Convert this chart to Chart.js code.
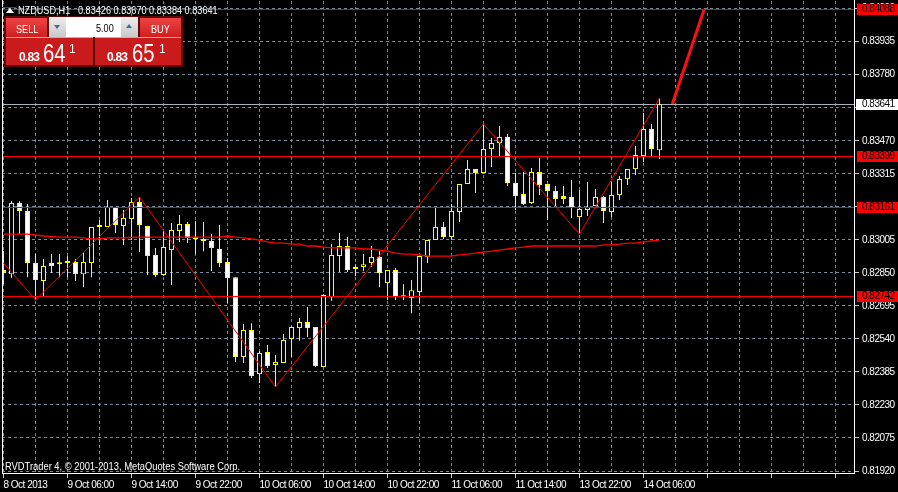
<!DOCTYPE html>
<html>
<head>
<meta charset="utf-8">
<script src="https://cdn.jsdelivr.net/npm/chart.js@4.4.0/dist/chart.umd.min.js"></script>
<style>
html, body { margin: 0; padding: 0; background: #000; }
#wrap { position: relative; width: 898px; height: 492px; overflow: hidden; background: #000;
  font-family: "Liberation Sans", sans-serif; color: #fff; }
#chart { position: absolute; left: 0; top: 0; }
.abs { position: absolute; white-space: nowrap; line-height: 1; }
.sx { transform: scaleX(0.83); transform-origin: 0 0; }
.hdr { top: 5px; font-size: 11px; }
.icon-line { left: 2px; top: 7px; width: 14px; height: 1px; background: #ff0000; }
.icon-tri { left: 6px; top: 8px; width: 0; height: 0; border-left: 4px solid transparent;
  border-right: 4px solid transparent; border-bottom: 5px solid #fff; }
.panel { left: 4px; top: 16px; width: 179px; height: 51px; background: #5a0a0a; }
.btn { top: 18px; width: 41px; height: 19px; background: linear-gradient(#ee4444, #d01e1e); }
.lbl { top: 24px; font-size: 11px; color: #fff; }
.sep { height: 1px; background: #f19a9a; }
.spin { left: 49px; top: 17px; width: 89px; height: 20px; background: #fff; }
.arr { top: 17px; width: 17px; height: 20px; background: linear-gradient(#eeeeee, #c8c8c8); }
.arr i { position: absolute; left: 5px; width: 0; height: 0; border-left: 3px solid transparent; border-right: 3px solid transparent; }
.qty { left: 96px; top: 23px; font-size: 11px; color: #000; }
.box { top: 38px; height: 27px; background: #c91b1b; }
.small { font-size: 12px; font-weight: bold; top: 51px; letter-spacing: -0.8px; }
.big { font-size: 26px; top: 40px; transform: scaleX(0.78); transform-origin: 0 0; }
.sup { font-size: 12px; top: 43px; }
.copy { left: 5px; top: 461px; font-size: 11px; color: #fff; transform: scaleX(0.85); transform-origin: 0 0; }
</style>
</head>
<body>
<div id="wrap">
  <canvas id="chart" width="898" height="492"></canvas>

  <div class="abs icon-line"></div>
  <div class="abs icon-tri"></div>
  <div class="abs hdr sx" style="left:18px">NZDUSD,H1</div>
  <div class="abs hdr sx" style="left:78px">0.83426 0.83670 0.83384 0.83641</div>

  <div class="abs panel"></div>
  <div class="abs btn" style="left:6px"></div>
  <div class="abs lbl sx" style="left:16px">SELL</div>
  <div class="abs spin"></div>
  <div class="abs arr" style="left:49px"><i style="top:8px;border-top:4px solid #4a6690"></i></div>
  <div class="abs arr" style="left:121px"><i style="top:7px;border-bottom:4px solid #4a6690"></i></div>
  <div class="abs qty sx">5.00</div>
  <div class="abs btn" style="left:140px"></div>
  <div class="abs lbl sx" style="left:151px">BUY</div>
  <div class="abs box" style="left:6px;width:87px"></div>
  <div class="abs box" style="left:95px;width:86px"></div>
  <div class="abs sep" style="left:6px;top:37px;width:87px"></div>
  <div class="abs sep" style="left:95px;top:37px;width:86px"></div>
  <div class="abs small" style="left:19px">0.83</div>
  <div class="abs big" style="left:43px">64</div>
  <div class="abs sup" style="left:69px">1</div>
  <div class="abs small" style="left:107px">0.83</div>
  <div class="abs big" style="left:132px">65</div>
  <div class="abs sup" style="left:159px">1</div>

  <div class="abs copy">RVDTrader 4, © 2001-2013, MetaQuotes Software Corp.</div>
</div>

<script>
'use strict';

// ---- data (NZDUSD H1) ----
var timeLabels = ['8 Oct 2013', '9 Oct 06:00', '9 Oct 14:00', '9 Oct 22:00', '10 Oct 06:00',
  '10 Oct 14:00', '10 Oct 22:00', '11 Oct 06:00', '11 Oct 14:00', '13 Oct 22:00', '14 Oct 06:00'];

var opens = [
  0.82863, 0.82844, 0.83178, 0.83140, 0.82896, 0.82812, 0.82896, 0.82891, 0.82896, 0.82901,
  0.82844, 0.82896, 0.83065, 0.83065, 0.83159, 0.83070, 0.83103, 0.83183, 0.83070, 0.82934,
  0.82840, 0.82957, 0.83047, 0.83079, 0.83014, 0.83009, 0.83000, 0.82962, 0.82901, 0.82830,
  0.82455, 0.82582, 0.82375, 0.82479, 0.82418, 0.82427, 0.82540, 0.82591, 0.82619, 0.82596,
  0.82408, 0.82736, 0.82929, 0.82976, 0.82868, 0.82877, 0.82896, 0.82924, 0.82802, 0.82863,
  0.82736, 0.82732, 0.82760, 0.82924, 0.83004, 0.83065, 0.83018, 0.83136, 0.83267, 0.83337,
  0.83319, 0.83431, 0.83459, 0.83488, 0.83272, 0.83220, 0.83178, 0.83323, 0.83267, 0.83234,
  0.83211, 0.83206, 0.83112, 0.83145, 0.83164, 0.83206, 0.83136, 0.83215, 0.83290, 0.83337,
  0.83398, 0.83525, 0.83426
];
var highs = [
  0.82952, 0.83187, 0.83187, 0.83173, 0.82938, 0.82915, 0.82938, 0.82938, 0.82929, 0.82915,
  0.82948, 0.83065, 0.83098, 0.83192, 0.83159, 0.83145, 0.83201, 0.83206, 0.83070, 0.82967,
  0.83047, 0.83084, 0.83122, 0.83089, 0.83093, 0.83089, 0.83032, 0.83075, 0.82920, 0.82830,
  0.82610, 0.82614, 0.82483, 0.82512, 0.82465, 0.82563, 0.82600, 0.82638, 0.82690, 0.82596,
  0.82750, 0.82985, 0.83037, 0.83018, 0.82891, 0.82938, 0.82976, 0.82952, 0.82863, 0.82873,
  0.82797, 0.82816, 0.82929, 0.83004, 0.83154, 0.83089, 0.83173, 0.83267, 0.83380, 0.83337,
  0.83549, 0.83483, 0.83539, 0.83502, 0.83319, 0.83323, 0.83342, 0.83389, 0.83267, 0.83258,
  0.83258, 0.83286, 0.83239, 0.83276, 0.83244, 0.83211, 0.83276, 0.83305, 0.83337, 0.83445,
  0.83600, 0.83549, 0.83670
];
var lows = [
  0.82797, 0.82826, 0.83032, 0.82830, 0.82723, 0.82741, 0.82849, 0.82830, 0.82830, 0.82812,
  0.82783, 0.82830, 0.82981, 0.83065, 0.83037, 0.82981, 0.83004, 0.82948, 0.82840, 0.82830,
  0.82835, 0.82793, 0.82995, 0.82990, 0.82938, 0.82952, 0.82859, 0.82877, 0.82708, 0.82432,
  0.82427, 0.82357, 0.82333, 0.82404, 0.82314, 0.82427, 0.82455, 0.82531, 0.82549, 0.82408,
  0.82408, 0.82718, 0.82854, 0.82854, 0.82835, 0.82859, 0.82877, 0.82783, 0.82723, 0.82723,
  0.82723, 0.82661, 0.82708, 0.82896, 0.83004, 0.83009, 0.83004, 0.83089, 0.83267, 0.83225,
  0.83319, 0.83347, 0.83398, 0.83258, 0.83145, 0.83168, 0.83173, 0.83215, 0.83098, 0.83159,
  0.83173, 0.83108, 0.83032, 0.83117, 0.83164, 0.83084, 0.83112, 0.83192, 0.83262, 0.83309,
  0.83370, 0.83398, 0.83384
];
var closes = [
  0.82849, 0.83178, 0.83140, 0.82896, 0.82816, 0.82882, 0.82882, 0.82896, 0.82901, 0.82844,
  0.82901, 0.83065, 0.83070, 0.83159, 0.83075, 0.83108, 0.83183, 0.83075, 0.82929, 0.82840,
  0.82971, 0.83051, 0.83079, 0.83014, 0.83009, 0.83000, 0.82967, 0.82896, 0.82826, 0.82455,
  0.82582, 0.82366, 0.82474, 0.82413, 0.82432, 0.82535, 0.82596, 0.82619, 0.82591, 0.82413,
  0.82746, 0.82934, 0.82976, 0.82863, 0.82877, 0.82891, 0.82924, 0.82849, 0.82863, 0.82736,
  0.82741, 0.82769, 0.82929, 0.83004, 0.83065, 0.83018, 0.83140, 0.83267, 0.83337, 0.83319,
  0.83431, 0.83459, 0.83488, 0.83272, 0.83211, 0.83173, 0.83323, 0.83262, 0.83234, 0.83197,
  0.83197, 0.83154, 0.83150, 0.83159, 0.83206, 0.83140, 0.83215, 0.83290, 0.83337, 0.83403,
  0.83525, 0.83431, 0.83641
];

// red moving average
var maValues = [
  0.83032, 0.83032, 0.83032, 0.83032, 0.83028, 0.83023, 0.83021, 0.83018, 0.83018, 0.83018,
  0.83014, 0.83009, 0.83009, 0.83014, 0.83014, 0.83014, 0.83016, 0.83018, 0.83018, 0.83018,
  0.83018, 0.83018, 0.83018, 0.83018, 0.83018, 0.83018, 0.83018, 0.83018, 0.83023, 0.83018,
  0.83014, 0.83009, 0.83004, 0.82995, 0.82990, 0.82990, 0.82985, 0.82985, 0.82976, 0.82976,
  0.82971, 0.82967, 0.82967, 0.82967, 0.82967, 0.82962, 0.82962, 0.82957, 0.82952, 0.82943,
  0.82938, 0.82938, 0.82934, 0.82929, 0.82929, 0.82929, 0.82929, 0.82934, 0.82938, 0.82943,
  0.82948, 0.82952, 0.82957, 0.82962, 0.82967, 0.82971, 0.82976, 0.82976, 0.82976, 0.82976,
  0.82976, 0.82976, 0.82976, 0.82976, 0.82976, 0.82981, 0.82981, 0.82985, 0.82990, 0.82990,
  0.82995, 0.83000, 0.83004
];

// zigzag swing points (bar index, price)
var zigzagBars = [0, 4, 17, 34, 60, 72, 82];
var zigzagPrices = [0.82896, 0.82723, 0.83206, 0.82314, 0.83549, 0.83032, 0.83670];

// thick projection line
var targetBars = [83.6, 87.6];
var targetPrices = [0.83643, 0.84088];

var levelPrices = [0.84088, 0.83399, 0.83161, 0.82742];
var lastClose = 0.83641;

var yTicks = [0.81920, 0.82075, 0.82230, 0.82385, 0.82540, 0.82695, 0.82850, 0.83005,
  0.83160, 0.83315, 0.83470, 0.83625, 0.83780, 0.83935, 0.84090];

// ---- build ----
var gridColor = '#778899';
var fontFamily = '"Liberation Sans", sans-serif';

var bodyData = opens.map(function (o, i) { return { x: i, y: [o, closes[i]] }; });
var wickData = lows.map(function (l, i) { return { x: i, y: [l, highs[i]] }; });
var bodyFill = opens.map(function (o, i) { return closes[i] >= o ? '#000000' : '#ffffff'; });
var maData = maValues.map(function (v, i) { return { x: i, y: v }; });
var zigData = zigzagBars.map(function (b, i) { return { x: b, y: zigzagPrices[i] }; });
var targetData = targetBars.map(function (b, i) { return { x: b, y: targetPrices[i] }; });

function pxLine(ctx, x1, y1, x2, y2, color, w) {
  ctx.save();
  ctx.strokeStyle = color;
  ctx.lineWidth = w;
  ctx.beginPath();
  ctx.moveTo(x1, y1);
  ctx.lineTo(x2, y2);
  ctx.stroke();
  ctx.restore();
}

var overlay = {
  id: 'overlay',
  beforeDraw: function (chart) {
    // terminal font is narrower than Liberation Sans
    chart.ctx.letterSpacing = '-0.5px';
  },
  beforeDatasetsDraw: function (chart) {
    var a = chart.chartArea, y = chart.scales.y;
    var py = Math.round(y.getPixelForValue(lastClose)) + 0.5;
    pxLine(chart.ctx, a.left, py, a.right, py, '#aab4c0', 1);
  },
  afterDatasetsDraw: function (chart) {
    var a = chart.chartArea, y = chart.scales.y;
    levelPrices.forEach(function (p) {
      var py = Math.round(y.getPixelForValue(p)) + 0.5;
      pxLine(chart.ctx, a.left, py, a.right, py, '#ff0000', 1);
    });
  },
  afterDraw: function (chart) {
    var ctx = chart.ctx, a = chart.chartArea, y = chart.scales.y;
    // frame
    pxLine(ctx, a.left + 0.5, 0, a.left + 0.5, a.bottom, '#ffffff', 1);
    pxLine(ctx, a.right - 0.5, 0, a.right - 0.5, a.bottom, '#ffffff', 1);
    pxLine(ctx, a.left, a.bottom - 0.5, a.right, a.bottom - 0.5, '#ffffff', 1);
    // price tags
    ctx.save();
    ctx.font = '10px ' + fontFamily;
    ctx.textBaseline = 'middle';
    ctx.textAlign = 'left';
    levelPrices.forEach(function (p) {
      var py = Math.round(y.getPixelForValue(p));
      ctx.fillStyle = '#ff0000';
      ctx.fillRect(a.right + 2, py - 5, 898 - a.right - 2, 11);
      ctx.fillStyle = '#000000';
      ctx.fillText(p.toFixed(5), a.right + 7, py + 0.5);
    });
    var cy = Math.round(y.getPixelForValue(lastClose));
    ctx.fillStyle = '#ffffff';
    ctx.fillRect(a.right + 1, cy - 5, 898 - a.right - 1, 11);
    ctx.fillStyle = '#000000';
    ctx.fillText(lastClose.toFixed(5), a.right + 7, cy + 0.5);
    ctx.restore();
  }
};

Chart.defaults.font.family = fontFamily;
Chart.defaults.font.size = 10;
Chart.defaults.color = '#ffffff';

var chart = new Chart(document.getElementById('chart'), {
  type: 'bar',
  data: {
    datasets: [{
      type: 'line',
      data: targetData,
      borderColor: '#ff1010',
      borderWidth: 3,
      pointRadius: 0,
      order: 0
    }, {
      type: 'line',
      data: zigData,
      borderColor: '#ff0000',
      borderWidth: 1,
      pointRadius: 0,
      order: 1
    }, {
      type: 'line',
      data: maData,
      borderColor: '#ff0000',
      borderWidth: 1.3,
      pointRadius: 0,
      order: 2
    }, {
      data: bodyData,
      backgroundColor: bodyFill,
      borderColor: '#ffff00',
      borderWidth: 1,
      borderSkipped: false,
      barThickness: 5,
      minBarLength: 2,
      inflateAmount: 0,
      grouped: false,
      order: 3
    }, {
      data: wickData,
      backgroundColor: '#ffff00',
      borderWidth: 0,
      barThickness: 1,
      inflateAmount: 0,
      grouped: false,
      order: 4
    }]
  },
  options: {
    responsive: false,
    animation: false,
    devicePixelRatio: 1,
    layout: { padding: { left: 2, top: 1, right: 0, bottom: 0 } },
    plugins: { legend: { display: false }, tooltip: { enabled: false } },
    scales: {
      x: {
        type: 'linear',
        min: -0.1875,
        max: 106.4375,
        offset: false,
        border: { display: false, dash: [3, 3] },
        grid: {
          offset: false,
          color: gridColor,
          tickLength: 4,
          tickColor: function (c) { return c.tick && c.tick.value % 8 === 0 ? '#c8c8c8' : 'rgba(0,0,0,0)'; }
        },
        ticks: {
          autoSkip: false,
          maxRotation: 0,
          align: 'start',
          padding: 1,
          color: '#ffffff',
          callback: function (v) { return v % 8 === 0 ? (timeLabels[v / 8] || '') : ''; }
        },
        afterBuildTicks: function (s) {
          var t = [];
          for (var k = 0; k <= 104; k += 4) t.push({ value: k });
          s.ticks = t;
        },
        afterFit: function (s) { s.height = 18; s.paddingLeft = 0; s.paddingRight = 0; }
      },
      y: {
        position: 'right',
        min: 0.81906,
        max: 0.84126,
        border: { display: false, dash: [3, 3] },
        grid: { color: gridColor, tickLength: 4, tickColor: '#c8c8c8' },
        ticks: {
          padding: 3,
          color: '#ffffff',
          callback: function (v) { return Number(v).toFixed(5); }
        },
        afterBuildTicks: function (s) {
          s.ticks = yTicks.map(function (v) { return { value: v }; });
        },
        afterFit: function (s) { s.width = 43; s.paddingTop = 0; s.paddingBottom = 0; }
      }
    }
  },
  plugins: [overlay]
});
</script>
</body>
</html>
